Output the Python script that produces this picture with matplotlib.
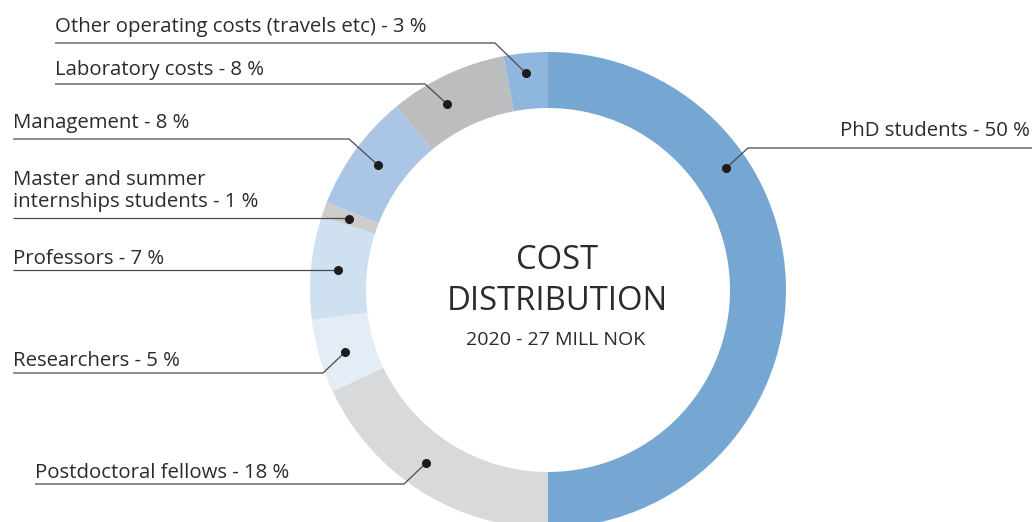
import math
import matplotlib
matplotlib.use("Agg")
import matplotlib.pyplot as plt

# Cost shares (percent), clockwise from 12 o'clock
categories = [
    "PhD students",
    "Postdoctoral fellows",
    "Researchers",
    "Professors",
    "Master and summer\ninternships students",
    "Management",
    "Laboratory costs",
    "Other operating costs (travels etc)",
]
shares = [50, 18, 5, 7, 1, 8, 8, 3]
colors = ["#76a7d3", "#d8d9db", "#e4edf6", "#cfe0f0", "#cccccc",
          "#aac5e5", "#bcbdbf", "#8fb6dc"]

title_lines = ["COST", "DISTRIBUTION"]
subtitle = "2020 - 27 MILL NOK"

W, H = 1035, 522
plt.rcParams["font.family"] = ["Open Sans", "DejaVu Sans"]

fig = plt.figure(figsize=(W / 100, H / 100), dpi=100)
ax = fig.add_axes([0, 0, 1, 1])

# pixel-style coordinates: y measured from top of the canvas
def Y(py):
    return H - py

cx, cy = 548, 290
r_out, r_in = 238, 182

wedges, _ = ax.pie(shares, colors=colors, startangle=90, counterclock=False,
                   radius=r_out, center=(cx, Y(cy)),
                   wedgeprops=dict(width=r_out - r_in, linewidth=0))

ax.set_xlim(0, W)
ax.set_ylim(0, H)
ax.set_aspect("equal")
ax.axis("off")

# Callout layout per category: (dot angle in degrees, dot radius,
# text x, text baseline y, leader y, elbow x, side)
layout = [
    (34.4, 216, 1030, 136, 148, 748, "right"),
    (234.8, 212, 35, 478, 484, 404, "left"),
    (197.0, 212, 13, 366, 373, 323, "left"),
    (174.6, 211, 13, 264, 270, None, "left"),
    (160.4, 211, 13, 207, 218, None, "left"),
    (143.7, 211, 13, 128, 139, 349, "left"),
    (118.5, 212, 55, 75, 84, 425, "left"),
    (95.8, 218, 55, 32, 43, 495, "left"),
]

text_color = "#2b2b2b"
line_color = "#4a4a4a"
fs = 14.7

for name, val, (ang, rr, tx, ty, ly, ex, side) in zip(categories, shares, layout):
    dx = cx + rr * math.cos(math.radians(ang))
    dy = cy - rr * math.sin(math.radians(ang))
    label = f"{name} - {val} %"
    ax.text(tx, Y(ty), label, ha=side, va="baseline", fontsize=fs,
            color=text_color, linespacing=1.15)
    if side == "left":
        if ex is None:
            xs, ys = [tx, dx], [ly, ly]
        else:
            xs, ys = [tx, ex, dx], [ly, ly, dy]
    else:
        xs, ys = [tx + 2, ex, dx], [ly, ly, dy]
    ax.plot(xs, [Y(v) for v in ys], color=line_color, lw=0.9,
            solid_capstyle="butt", zorder=3)
    ax.plot([dx], [Y(dy)], "o", color="#1c1c1c", markersize=5.5, zorder=4)

# centre title
ax.text(557, Y(269), title_lines[0], ha="center", va="baseline",
        fontsize=23.6, color=text_color)
ax.text(557, Y(310), title_lines[1], ha="center", va="baseline",
        fontsize=23.6, color=text_color)
ax.text(556, Y(345), subtitle, ha="center", va="baseline",
        fontsize=14, color=text_color)

fig.savefig("out.png", dpi=100)
